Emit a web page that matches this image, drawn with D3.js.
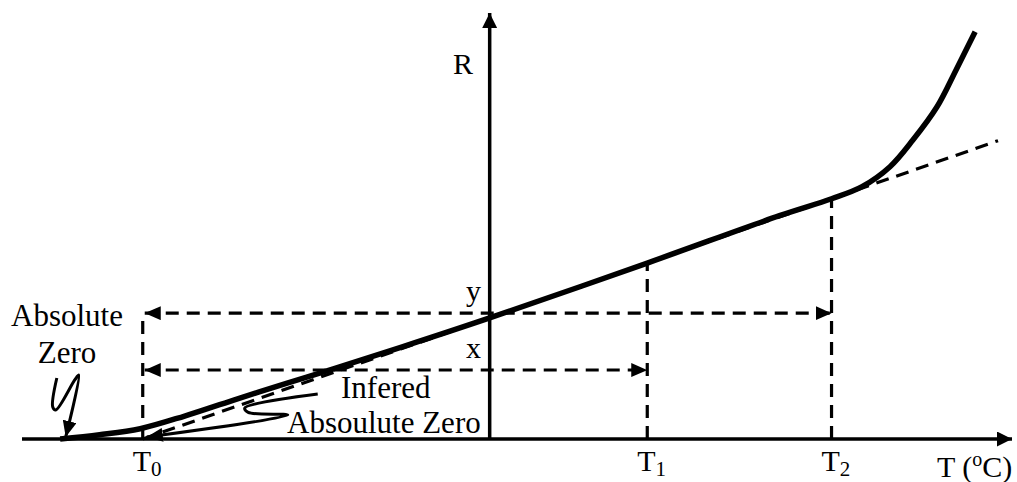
<!DOCTYPE html>
<html>
<head>
<meta charset="utf-8">
<script src="https://cdn.jsdelivr.net/npm/d3@7"></script>
<style>
body { margin: 0; background: #fff; }
text { font-family: "Liberation Serif", "Times New Roman", serif; fill: #000; }
</style>
</head>
<body>
<div id="chart"></div>
<script>
// measured curve R(T), T in degC
var curveT = [-338, -307, -275, -240, -202, -160, -123, -70, 0, 124, 228, 269, 293, 315, 333, 352, 367, 382];
var curveR = [0, 3.5, 8.5, 19, 32, 46, 58, 75.7, 100, 145.4, 184.5, 198.5, 208.5, 225, 247, 274.5, 305, 336.5];

// straight-line extrapolation to inferred absolute zero
var fitT = [-273, 400];
var fitR = [0, 246.5];

// temperatures marked on the T axis
var markNames = ["0", "1", "2"];
var markT = [-273, 124, 269];
var markR = [104, 145.4, 198.5];

// horizontal span arrows (x and y)
var spanNames = ["y", "x"];
var spanR = [104, 57];
var spanT = [269, 124];

// hand-drawn pointer arrows
var absT = [-340.6, -343.8, -341.4, -326.5, -323.3, -333.6];
var absR = [50.4, 26.4, 24, 48.8, 52.9, 1.7];
var infT = [-135.3, -192.7, -190, -158.9, -269.8];
var infR = [37.2, 25.6, 22, 19.8, 1.7];

var width = 1017, height = 482;

var x = d3.scaleLinear().domain([-368, 411]).range([22, 1012]);
var y = d3.scaleLinear().domain([0, 352]).range([439, 13]);

var svg = d3.select("#chart").append("svg")
    .attr("width", width)
    .attr("height", height);

var defs = svg.append("defs");
defs.append("marker")
    .attr("id", "axisHead")
    .attr("viewBox", "0 0 15 15")
    .attr("refX", 15).attr("refY", 7.5)
    .attr("markerWidth", 15).attr("markerHeight", 15)
    .attr("markerUnits", "userSpaceOnUse")
    .attr("orient", "auto-start-reverse")
    .append("path").attr("d", "M0,0L15,7.5L0,15Z");
defs.append("marker")
    .attr("id", "head")
    .attr("viewBox", "0 0 16 14")
    .attr("refX", 16).attr("refY", 7)
    .attr("markerWidth", 16).attr("markerHeight", 14)
    .attr("markerUnits", "userSpaceOnUse")
    .attr("orient", "auto-start-reverse")
    .append("path").attr("d", "M0,0L16,7L0,14Z");

// axes
svg.append("line")
    .attr("x1", x.range()[0]).attr("x2", x.range()[1])
    .attr("y1", y(0)).attr("y2", y(0))
    .attr("stroke", "#000").attr("stroke-width", 3.5)
    .attr("marker-end", "url(#axisHead)");
svg.append("line")
    .attr("x1", x(0)).attr("x2", x(0))
    .attr("y1", y(0)).attr("y2", y.range()[1])
    .attr("stroke", "#000").attr("stroke-width", 3.5)
    .attr("marker-end", "url(#axisHead)");

// dashed extrapolation
svg.append("line")
    .attr("x1", x(fitT[0])).attr("y1", y(fitR[0]))
    .attr("x2", x(fitT[1])).attr("y2", y(fitR[1]))
    .attr("stroke", "#000").attr("stroke-width", 3.2)
    .attr("stroke-dasharray", "13,8");

// vertical dashed drop lines
svg.selectAll(".drop")
    .data(markT)
    .enter().append("line")
    .attr("class", "drop")
    .attr("x1", d => x(d)).attr("x2", d => x(d))
    .attr("y1", y(0)).attr("y2", (d, i) => y(markR[i]))
    .attr("stroke", "#000").attr("stroke-width", 3.2)
    .attr("stroke-dasharray", "13,8");

// horizontal span arrows
svg.selectAll(".span")
    .data(spanR)
    .enter().append("line")
    .attr("class", "span")
    .attr("x1", x(markT[0]) + 2).attr("x2", (d, i) => x(spanT[i]))
    .attr("y1", d => y(d)).attr("y2", d => y(d))
    .attr("stroke", "#000").attr("stroke-width", 3.2)
    .attr("stroke-dasharray", "13,8")
    .attr("marker-start", "url(#head)")
    .attr("marker-end", "url(#head)");

// resistance curve
var line = d3.line()
    .x(d => x(d[0]))
    .y(d => y(d[1]))
    .curve(d3.curveCatmullRom.alpha(0.5));
svg.append("path")
    .datum(d3.zip(curveT, curveR))
    .attr("d", line)
    .attr("fill", "none")
    .attr("stroke", "#000")
    .attr("stroke-width", 5.5)
    .attr("stroke-linecap", "butt");

// pointer scribbles
var scribble = d3.line()
    .x(d => x(d[0]))
    .y(d => y(d[1]))
    .curve(d3.curveCatmullRom.alpha(0.5));
[[absT, absR], [infT, infR]].forEach(function (p) {
    svg.append("path")
        .datum(d3.zip(p[0], p[1]))
        .attr("d", scribble)
        .attr("fill", "none")
        .attr("stroke", "#000")
        .attr("stroke-width", 3)
        .attr("marker-end", "url(#head)");
});

// labels
svg.append("text").attr("x", 453).attr("y", 74)
    .style("font-size", "30px").text("R");

var tl = svg.selectAll(".tlab")
    .data(markT)
    .enter().append("text")
    .attr("class", "tlab")
    .attr("x", d => x(d) - 10)
    .attr("y", 471)
    .style("font-size", "30px");
tl.append("tspan").text("T");
tl.append("tspan").attr("dy", 5).style("font-size", "21px")
    .text((d, i) => markNames[i]);

var tc = svg.append("text").attr("x", 937).attr("y", 477).style("font-size", "30px");
tc.append("tspan").text("T (");
tc.append("tspan").attr("dy", -11).style("font-size", "20px").text("o");
tc.append("tspan").attr("dy", 11).text("C)");

svg.selectAll(".slab")
    .data(spanR)
    .enter().append("text")
    .attr("class", "slab")
    .attr("x", 466)
    .attr("y", d => y(d) - 12)
    .style("font-size", "30px")
    .text((d, i) => spanNames[i]);

svg.append("text").attr("x", 67).attr("y", 326)
    .attr("text-anchor", "middle").style("font-size", "31px").text("Absolute");
svg.append("text").attr("x", 67).attr("y", 363)
    .attr("text-anchor", "middle").style("font-size", "31px").text("Zero");

svg.append("text").attr("x", 341).attr("y", 398)
    .style("font-size", "31px").text("Infered");
svg.append("text").attr("x", 287).attr("y", 433)
    .style("font-size", "31px").text("Absoulute Zero");
</script>
</body>
</html>
